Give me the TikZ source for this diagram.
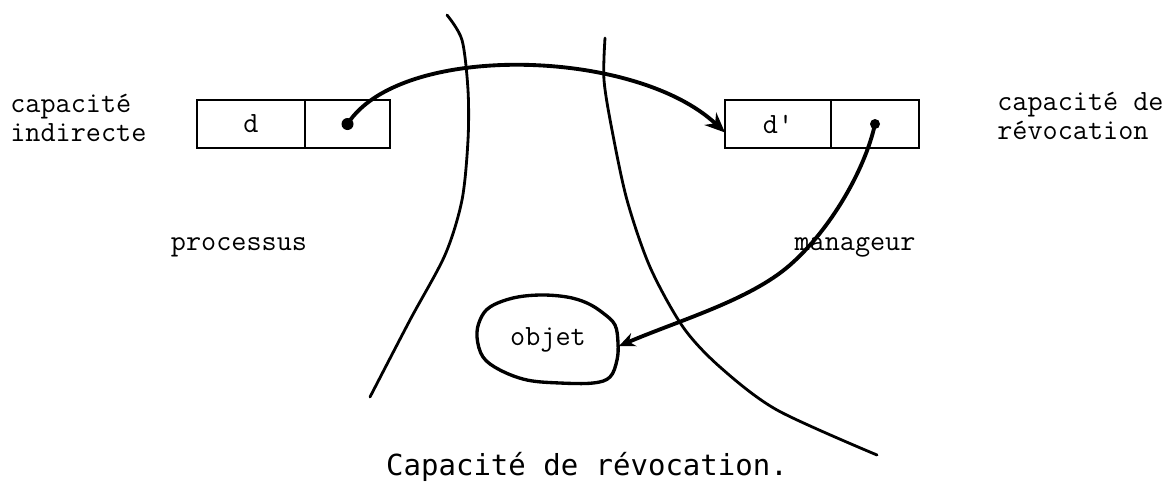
\documentclass[tikz,border=0pt]{standalone}
\usepackage{fontspec}
\newfontfamily\legende{DejaVu Sans Mono}
\usetikzlibrary{positioning,arrows.meta}

\begin{document}
\begin{tikzpicture}[x=0.2mm,y=-0.2mm,
  cellule/.style={draw, line width=0.9pt, minimum height=9.6mm, inner sep=0pt, outer sep=0pt,
    font=\ttfamily\fontsize{16.7}{17}\selectfont},
  texte/.style={font=\ttfamily\fontsize{16.7}{16.5}\selectfont, inner sep=0pt},
  fleche/.style={line width=2.2pt, -{Stealth[length=4mm,width=3.4mm]}},
  frontiere/.style={line width=1.6pt, line cap=round}]
  \useasboundingbox (0,0) rectangle (1176,495);

  % capacites
  \node[cellule, minimum width=21.6mm, anchor=north west] (d) at (197,100) {d};
  \node[cellule, minimum width=17mm, right=0pt of d] (dptr) {};
  \node[cellule, minimum width=21.2mm, anchor=north west] (dp) at (725,100) {d'};
  \node[cellule, minimum width=17.6mm, right=0pt of dp] (dpptr) {};

  % textes
  \node[texte, align=left, anchor=west] (indirecte) at (10,118) {capacité\\indirecte};
  \node[texte, align=left, anchor=west] (revocation) at (997,116) {capacité de\\révocation};
  \node[texte] (processus) at (239,247) {processus};
  \node[texte] (manageur) at (855,247) {manageur};
  \node[texte] (objet) at (548,340) {objet};
  \node[font=\legende\fontsize{16.5}{18}\selectfont] (titre) at (587,467) {Capacité de révocation.};

  % objet
  \draw[line width=1.9pt] plot[smooth cycle, tension=0.6] coordinates {(477,337) (480,320) (490,307)
    (513,298) (540,295) (567,297) (587,303) (603,313) (615,325) (618,343) (617,360) (610,377)
    (593,383) (560,383) (527,380) (500,370) (483,357)};
  \coordinate (bord) at (619,346);

  % frontieres
  \draw[frontiere] plot[smooth] coordinates {(447,15) (462,40) (468,90) (468,140) (462,200)
    (445,255) (410,320) (370,397)};
  \draw[frontiere] plot[smooth] coordinates {(605,38) (604,80) (612,130) (627,200)
    (650,267) (683,327) (720,367) (777,410) (877,455)};

  % pointeurs
  \fill (dptr.center) circle (1.2mm);
  \draw[fleche] (dptr.center) .. controls (400,42) and (635,48) .. ([yshift=-1.7mm]dp.west);
  \fill (dpptr.center) circle (1mm);
  \draw[fleche, -{Stealth[length=3.2mm,width=2.8mm]}] (dpptr.center) .. controls (865,170) and (830,230)
    .. (790,265) .. controls (750,300) and (680,320) .. (bord);

\end{tikzpicture}
\end{document}
